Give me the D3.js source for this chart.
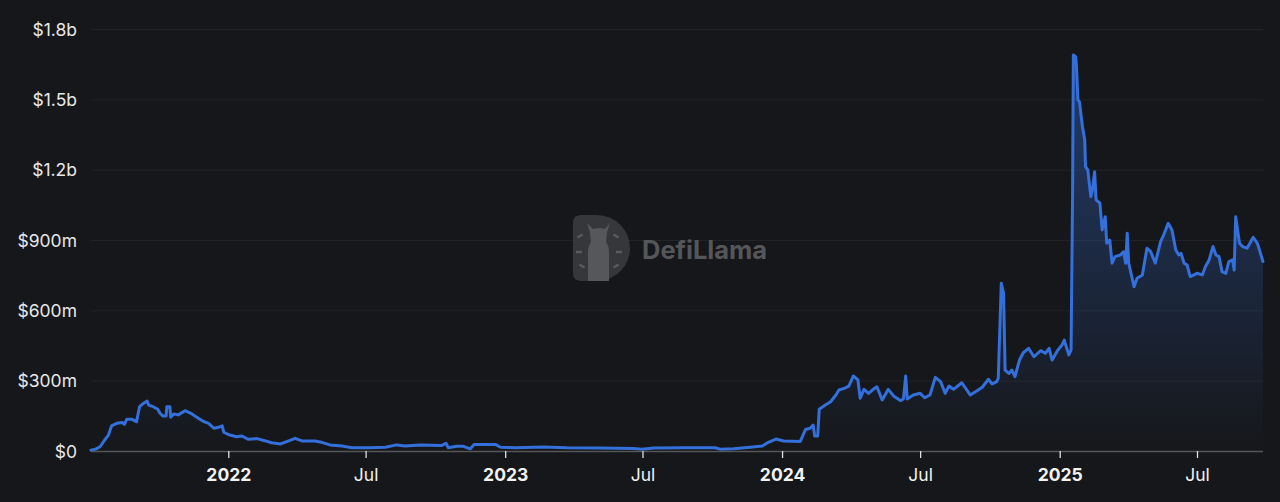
<!DOCTYPE html>
<html>
<head>
<meta charset="utf-8">
<script src="https://cdn.jsdelivr.net/npm/d3@7/dist/d3.min.js"></script>
<style>
  html, body { margin: 0; padding: 0; background: #16171a; }
  svg { display: block; }
</style>
</head>
<body>
<svg id="chart" width="1280" height="502"></svg>
<script>
// ---- data (TVL in millions USD) ----
const dates = [
"2021-07-04","2021-07-10","2021-07-16","2021-07-22","2021-07-27","2021-07-31","2021-08-07","2021-08-14","2021-08-17","2021-08-20",
"2021-08-27","2021-09-02","2021-09-06","2021-09-11","2021-09-16","2021-09-18","2021-09-24","2021-09-30","2021-10-03","2021-10-07",
"2021-10-11","2021-10-12","2021-10-16","2021-10-17","2021-10-21","2021-10-27","2021-11-05","2021-11-14","2021-11-23","2021-11-30",
"2021-12-06","2021-12-13","2021-12-19","2021-12-24","2021-12-26","2022-01-03","2022-01-12","2022-01-19","2022-01-27","2022-02-08",
"2022-02-18","2022-02-27","2022-03-11","2022-03-19","2022-03-30","2022-04-08","2022-04-25","2022-05-04","2022-05-15","2022-05-31",
"2022-06-13","2022-07-05","2022-07-27","2022-08-11","2022-08-22","2022-09-11","2022-10-09","2022-10-15","2022-10-18","2022-10-29",
"2022-11-07","2022-11-16","2022-11-21","2022-12-19","2022-12-26","2023-01-16","2023-02-20","2023-03-23","2023-05-06","2023-06-19",
"2023-06-30","2023-07-16","2023-08-24","2023-10-05","2023-10-12","2023-10-29","2023-11-20","2023-12-06","2023-12-14","2023-12-24",
"2024-01-03","2024-01-25","2024-02-01","2024-02-07","2024-02-11","2024-02-13","2024-02-17","2024-02-19","2024-02-27","2024-03-05",
"2024-03-12","2024-03-16","2024-03-23","2024-03-29","2024-04-04","2024-04-10","2024-04-13","2024-04-18","2024-04-24","2024-04-29",
"2024-05-05","2024-05-12","2024-05-20","2024-05-27","2024-06-05","2024-06-09","2024-06-12","2024-06-14","2024-06-22","2024-07-01",
"2024-07-07","2024-07-14","2024-07-21","2024-07-28","2024-08-03","2024-08-08","2024-08-14","2024-08-25","2024-09-05","2024-09-14",
"2024-09-21","2024-09-29","2024-10-04","2024-10-10","2024-10-12","2024-10-16","2024-10-19","2024-10-21","2024-10-26","2024-10-30",
"2024-11-03","2024-11-09","2024-11-14","2024-11-21","2024-11-28","2024-12-07","2024-12-13","2024-12-18","2024-12-22","2024-12-29",
"2025-01-04","2025-01-07","2025-01-13","2025-01-16","2025-01-18","2025-01-19","2025-01-22","2025-01-23","2025-01-25","2025-01-27",
"2025-01-31","2025-02-03","2025-02-04","2025-02-07","2025-02-11","2025-02-13","2025-02-16","2025-02-18","2025-02-23","2025-02-26",
"2025-03-02","2025-03-04","2025-03-08","2025-03-11","2025-03-15","2025-03-22","2025-03-26","2025-03-29","2025-03-31","2025-04-02",
"2025-04-05","2025-04-09","2025-04-13","2025-04-20","2025-04-26","2025-05-01","2025-05-07","2025-05-14","2025-05-18","2025-05-24",
"2025-05-29","2025-06-03","2025-06-07","2025-06-10","2025-06-14","2025-06-18","2025-06-22","2025-07-01","2025-07-08","2025-07-12",
"2025-07-17","2025-07-22","2025-07-26","2025-07-30","2025-08-03","2025-08-08","2025-08-12","2025-08-17","2025-08-19","2025-08-21",
"2025-08-26","2025-08-30","2025-09-05","2025-09-13","2025-09-18","2025-09-20","2025-09-26"
];
const tvl = [
3,8,18,47,68,107,118,122,114,135,
135,125,189,203,213,196,189,178,161,149,
149,189,189,144,158,154,172,158,139,125,
118,97,101,107,80,68,61,64,50,53,
44,35,30,40,54,43,43,37,26,21,
14,14,16,26,21,26,23,33,14,20,
20,9,28,28,16,14,17,14,13,11,
7,13,14,14,7,10,16,21,37,51,
43,41,92,97,111,64,64,178,196,210,
239,260,267,277,320,303,225,263,246,260,
274,218,263,235,215,222,320,222,239,246,
227,239,314,296,246,277,263,291,239,257,
272,306,286,296,310,715,673,345,331,345,
317,388,419,438,402,428,417,438,388,428,
452,473,410,431,1100,1689,1682,1647,1497,1490,
1383,1327,1213,1199,1085,1113,1191,1071,1057,943,
999,886,900,801,829,836,850,801,929,801,
758,701,737,751,865,850,801,893,921,971,
943,857,836,843,801,793,744,758,751,786,
815,872,836,829,765,758,808,815,772,999,
886,872,865,911,889,872,808
];
const yTicks = [0, 300, 600, 900, 1200, 1500, 1800];
const yTickLabels = ["$0", "$300m", "$600m", "$900m", "$1.2b", "$1.5b", "$1.8b"];
const xTicks = ["2022-01-01","2022-07-01","2023-01-01","2023-07-01","2024-01-01","2024-07-01","2025-01-01","2025-07-01"];
const xTickLabels = ["2022","Jul","2023","Jul","2024","Jul","2025","Jul"];

// ---- layout ----
const parse = d3.utcParse("%Y-%m-%d");
const data = dates.map((d, i) => ({ date: parse(d), value: tvl[i] }));
const plotL = 91, plotR = 1263, plotT = 29, plotB = 451;
const FONT = "Inter, 'Liberation Sans', Arial, sans-serif";
const lineColor = "#3470dc";

const svg = d3.select("#chart");
svg.append("rect").attr("width", 1280).attr("height", 502).attr("fill", "#16171a");

const x = d3.scaleUtc().domain(d3.extent(data, d => d.date)).range([plotL, plotR]);
const y = d3.scaleLinear().domain([0, 1800]).range([plotB, plotT]);

// gridlines + y labels
const yAxis = d3.axisLeft(y).tickValues(yTicks).tickSize(-(plotR - plotL)).tickPadding(14)
  .tickFormat((d, i) => yTickLabels[i]);
const gy = svg.append("g").attr("transform", `translate(${plotL},0)`).call(yAxis);
gy.select(".domain").remove();
gy.selectAll(".tick line").attr("stroke", "#222327").attr("stroke-width", 1);
gy.selectAll(".tick text").attr("fill", "#e8e8e8").style("font-family", FONT).style("font-size", "17.5px")
  .attr("dy", "0.36em");

// watermark
const wm = svg.append("g");
wm.append("path")
  .attr("d", "M581,215 H597 A33,33 0 0 1 597,281 H581 Q573,281 573,273 V223 Q573,215 581,215 Z")
  .attr("fill", "#36373b");
wm.append("path")
  .attr("d", "M588,281 V252 Q588,246 591,242 L590,232 L587,223 L593,229 Q599,227 605,229 L610,223 L607,232 L606,242 Q609,246 609,252 V281 Z")
  .attr("fill", "#56575b");
[[580,236,-30],[579,252,0],[582,266,30],[616,236,30],[619,252,0],[616,266,-30]].forEach(([cx,cy,r]) => {
  wm.append("rect").attr("x", cx - 3).attr("y", cy - 1.2).attr("width", 6).attr("height", 2.4)
    .attr("fill", "#5a5b5f").attr("transform", `rotate(${r},${cx},${cy})`);
});
wm.append("text").attr("x", 642).attr("y", 259).text("DefiLlama")
  .attr("fill", "#55565a").style("font-family", FONT).style("font-size", "25.5px").style("font-weight", "700");

// area gradient
const defs = svg.append("defs");
const grad = defs.append("linearGradient").attr("id", "areaGrad")
  .attr("gradientUnits", "userSpaceOnUse").attr("x1", 0).attr("x2", 0).attr("y1", y(1700)).attr("y2", plotB);
grad.append("stop").attr("offset", "0%").attr("stop-color", lineColor).attr("stop-opacity", 0.42);
grad.append("stop").attr("offset", "100%").attr("stop-color", lineColor).attr("stop-opacity", 0);

svg.append("path").datum(data)
  .attr("d", d3.area().x(d => x(d.date)).y0(plotB).y1(d => y(d.value)))
  .attr("fill", "url(#areaGrad)");

svg.append("path").datum(data)
  .attr("d", d3.line().x(d => x(d.date)).y(d => y(d.value)))
  .attr("fill", "none").attr("stroke", lineColor).attr("stroke-width", 3)
  .attr("stroke-linejoin", "round").attr("stroke-linecap", "round");

// x axis
const xAxis = d3.axisBottom(x).tickValues(xTicks.map(parse)).tickSize(7).tickPadding(11)
  .tickFormat((d, i) => xTickLabels[i]);
const gx = svg.append("g").attr("transform", `translate(0,${plotB})`).call(xAxis);
gx.select(".domain").attr("stroke", "#55565a").attr("stroke-width", 1.5)
  .attr("d", `M${plotL},0.5H${plotR}`);
gx.selectAll(".tick line").attr("stroke", "#e0e0e0").attr("stroke-width", 1.3);
gx.selectAll(".tick text").attr("fill", "#f2f2f2").style("font-family", FONT).style("font-size", "17.5px")
  .style("font-weight", (d, i) => /^\d{4}$/.test(xTickLabels[i]) ? "700" : "400");
</script>
</body>
</html>
